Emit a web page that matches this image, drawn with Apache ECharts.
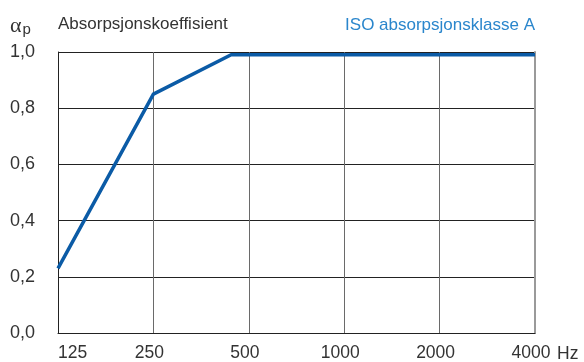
<!DOCTYPE html>
<html>
<head>
<meta charset="utf-8">
<script src="https://cdn.jsdelivr.net/npm/echarts@6/dist/echarts.min.js"></script>
<style>html,body{margin:0;padding:0;background:#fff}#c{width:584px;height:362px}</style>
</head>
<body>
<div id="c"></div>
<script>
const freqLabels = ['125', '250', '500', '1000', '2000', '4000'];
const yTickLabels = ['0,0', '0,2', '0,4', '0,6', '0,8', '1,0'];
const curveFreqs = [125, 250, 440, 4000];
const curveValues = [0.23, 0.85, 0.99, 0.99];

const FONT = '"Liberation Sans", Arial, sans-serif';
const chart = echarts.init(document.getElementById('c'), null, { renderer: 'canvas' });
const data = curveFreqs.map((f, i) => [Math.log2(f / 125), curveValues[i]]);

chart.setOption({
  backgroundColor: '#fff',
  animation: false,
  grid: { left: 58, right: 49, top: 52, bottom: 27.5, containLabel: false },
  xAxis: {
    type: 'value', min: 0, max: 5, interval: 1,
    axisLine: { show: true, lineStyle: { color: '#222', width: 1 } },
    axisTick: { show: false },
    splitLine: { show: true, showMaxLine: false, lineStyle: { color: '#6a6a6a', width: 1 } },
    axisLabel: {
      margin: 11, fontFamily: FONT, fontSize: 17.5, color: '#333',
      padding: [0, 8, 0, 0],
      formatter: v => freqLabels[Math.round(v)],
      alignMinLabel: 'left'
    }
  },
  yAxis: [{
    type: 'value', min: 0, max: 1, interval: 0.2,
    axisLine: { show: true, lineStyle: { color: '#222', width: 1 } },
    axisTick: { show: false },
    splitLine: { show: true, lineStyle: { color: '#222', width: 1 } },
    axisLabel: {
      margin: 23, fontFamily: FONT, fontSize: 18, color: '#333',
      padding: [3, 0, 0, 0],
      formatter: v => yTickLabels[Math.round(v * 5)]
    }
  }, {
    type: 'value', min: 0, max: 1, position: 'right',
    axisLine: { show: true, lineStyle: { color: '#9a9a9a', width: 2 } },
    axisTick: { show: false }, axisLabel: { show: false }, splitLine: { show: false }
  }],
  series: [{
    type: 'line', data: data, yAxisIndex: 0,
    showSymbol: false, symbol: 'none',
    lineStyle: { color: '#0b5ba6', width: 3.5, join: 'miter' },
    z: 5
  }],
  graphic: [
    { type: 'text', left: 58, top: 16, style: { text: 'Absorpsjonskoeffisient', font: '17px ' + FONT, fill: '#333' } },
    { type: 'text', right: 49, top: 17, style: { text: 'ISO absorpsjonsklasse A', font: '17px ' + FONT, fill: '#2a86cc', textAlign: 'right' } },
    { type: 'text', left: 10, top: 15, style: {
        text: '{a|α}{s|p}',
        rich: {
          a: { font: '22px "Liberation Serif", "DejaVu Serif", serif', fill: '#333' },
          s: { font: '15px ' + FONT, fill: '#333', padding: [8, 0, 0, 1] }
        }
    } },
    { type: 'text', left: 557, top: 345.6, style: { text: 'Hz', font: '17.5px ' + FONT, fill: '#333' } }
  ]
});
</script>
</body>
</html>
